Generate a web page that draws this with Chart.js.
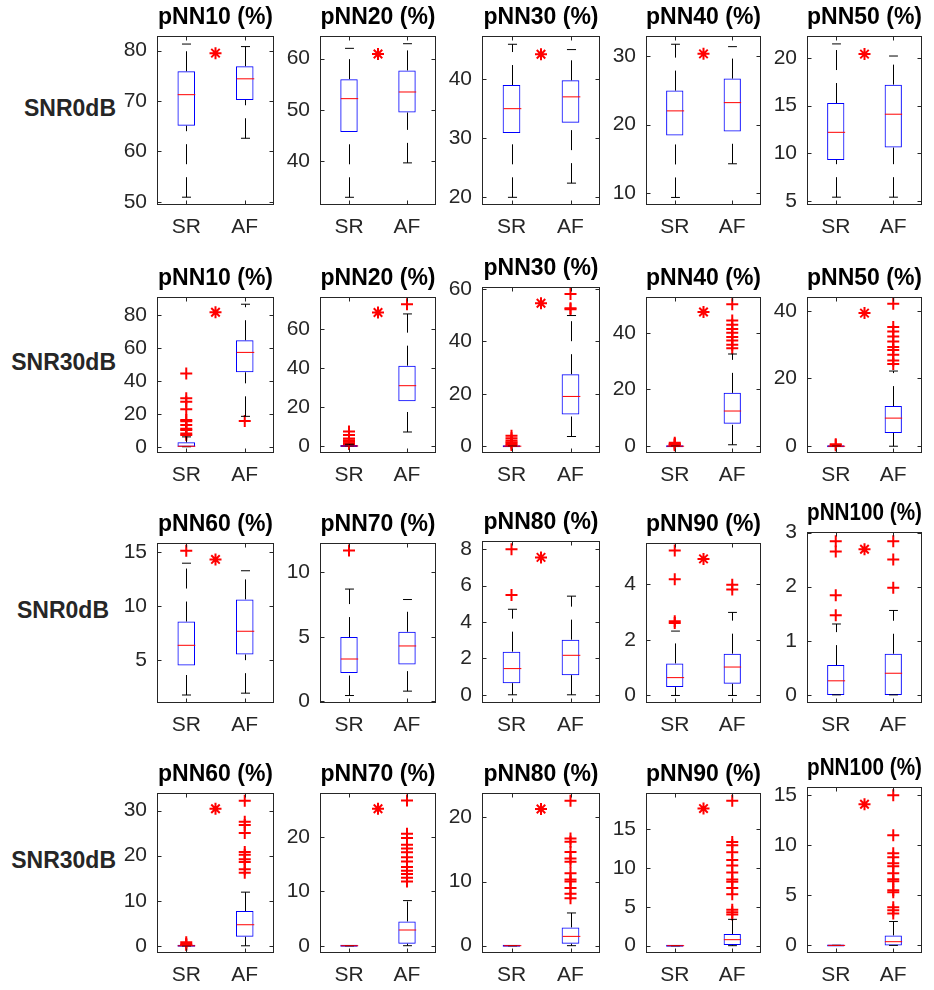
<!DOCTYPE html>
<html>
<head>
<meta charset="utf-8">
<script src="https://cdn.jsdelivr.net/npm/chart.js@4.4.1/dist/chart.umd.min.js"></script>
<style>
  html, body { margin: 0; padding: 0; background: #fff; }
  #fig { position: relative; width: 934px; height: 990px; overflow: hidden; }
  #fig canvas { position: absolute; }
  .rowlab {
    position: absolute; width: 200px; text-align: right;
    font: bold 23px 'Liberation Sans', Arial, sans-serif;
    line-height: 26px; color: #262626; white-space: nowrap;
  }
</style>
</head>
<body>
<div id="fig"></div>
<script>
/* ─── Datos: 20 paneles (4 filas x 5 columnas) ───────── */
const titles = [
  'pNN10 (%)', 'pNN20 (%)', 'pNN30 (%)', 'pNN40 (%)', 'pNN50 (%)',
  'pNN10 (%)', 'pNN20 (%)', 'pNN30 (%)', 'pNN40 (%)', 'pNN50 (%)',
  'pNN60 (%)', 'pNN70 (%)', 'pNN80 (%)', 'pNN90 (%)', 'pNN100 (%)',
  'pNN60 (%)', 'pNN70 (%)', 'pNN80 (%)', 'pNN90 (%)', 'pNN100 (%)',
];
const rowLabels = ['SNR0dB', 'SNR30dB', 'SNR0dB', 'SNR30dB'];
const groups = ['SR', 'AF'];

// límites del eje y y marcas
const yMin = [49.35, 31.5, 18.7, 8.3, 4.58, -3.8, -3.6, -2.6, -2.4, -2.0,
              1.06, -0.12, -0.45, -0.27, -0.15, -1.6, -1.34, -1.14, -0.94, -0.76];
const yMax = [82.9, 64.4, 47.3, 32.9, 22.3, 91.1, 76.6, 60.8, 52.6, 44.06,
              15.87, 12.28, 8.45, 5.47, 3.01, 33.9, 28.1, 23.8, 19.6, 15.83];
const yTicks = [
  [50, 60, 70, 80], [40, 50, 60], [20, 30, 40], [10, 20, 30], [5, 10, 15, 20],
  [0, 20, 40, 60, 80], [0, 20, 40, 60], [0, 20, 40, 60], [0, 20, 40], [0, 20, 40],
  [5, 10, 15], [0, 5, 10], [0, 2, 4, 6, 8], [0, 2, 4], [0, 1, 2, 3],
  [0, 10, 20, 30], [0, 10, 20], [0, 10, 20], [0, 5, 10, 15], [0, 5, 10, 15],
];

// SR: bigote inferior, Q1, mediana, Q3, bigote superior
const srLo  = [50.9, 33.0, 20.0, 9.4, 5.4,   0, 0, 0, 0, 0,   1.8, 0.46, 0, 0, 0,      0, 0, 0, 0, 0];
const srQ1  = [65.1, 45.7, 30.9, 18.4, 9.3,  0, 0, 0, 0, 0,   4.54, 2.2, 0.64, 0.3, 0, 0, 0, 0, 0, 0];
const srMed = [71.25, 52.2, 35.0, 22.0, 12.2, 0.3, 0, 0, 0, 0, 6.4, 3.29, 1.44, 0.64, 0.26, 0, 0, 0, 0, 0];
const srQ3  = [75.9, 56.0, 39.0, 24.95, 15.27, 2.7, 0.4, 0, 0, 0, 8.6, 4.99, 2.37, 1.15, 0.55, 0, 0, 0, 0, 0];
const srHi  = [81.3, 62.0, 45.9, 31.7, 21.47, 6.0, 0.9, 0, 0, 0, 14.0, 8.71, 4.7, 2.31, 1.31, 0, 0, 0, 0, 0];
const srOut = [
  [], [], [], [], [],
  [44.5, 29.5, 27.4, 22.8, 16.2, 15.5, 13.2, 11.0, 10.2, 8.1, 7.2],
  [7.4, 5.7, 3.9, 3.0, 2.2, 1.4, 1.0],
  [4.0, 3.0, 2.2, 1.5, 1.0, 0.5],
  [1.2, 0.8, 0.5, 0.3],
  [0.6, 0.3],
  [15.15], [11.7], [8.0, 5.48], [5.2, 4.17, 2.66, 2.6], [2.84, 2.65, 1.84, 1.47],
  [0.8, 0.4, 0.2], [], [], [], [],
];

// AF: bigote inferior, Q1, mediana, Q3, bigote superior
const afLo  = [62.6, 39.7, 22.4, 14.3, 5.4,  18.5, 7.2, 3.7, 0.5, 0,   1.97, 0.8, 0, 0, 0,  0, 0, 0, 0, 0];
const afQ1  = [70.2, 49.5, 32.6, 19.0, 10.6, 45.3, 23.0, 12.1, 7.9, 3.9, 5.55, 2.87, 1.08, 0.42, 0, 2.0, 0.37, 0.31, 0.1, 0];
const afMed = [74.4, 53.5, 37.0, 23.2, 14.1, 57.4, 31.0, 19.0, 12.4, 8.3, 7.7, 4.3, 2.17, 1.02, 0.4, 4.67, 2.89, 1.45, 0.77, 0.37];
const afQ3  = [76.9, 57.7, 39.8, 26.7, 17.2, 64.8, 41.3, 27.5, 18.8, 11.85, 10.65, 5.4, 3.03, 1.5, 0.76, 7.7, 4.47, 2.85, 1.5, 1.0];
const afHi  = [80.8, 62.9, 45.0, 31.35, 20.2, 86.7, 67.9, 49.9, 32.5, 22.2, 13.3, 7.9, 5.42, 2.98, 1.56, 11.9, 8.3, 5.1, 3.38, 2.39];
const afOut = [
  [], [], [], [], [],
  [15.6],
  [72.9],
  [58.1, 52.7, 52.3],
  [50.0, 44.3, 42.8, 41.3, 40.0, 38.5, 37.3, 35.8, 34.5],
  [42.1, 35.2, 33.9, 32.4, 30.9, 29.3, 28.4, 27.0, 25.3, 24.3],
  [], [], [], [3.97, 3.8], [2.84, 2.5, 1.98],
  [32.2, 27.5, 26.8, 25.0, 20.8, 20.2, 19.2, 18.6, 17.0, 16.2],
  [26.7, 20.6, 19.8, 18.6, 17.9, 17.2, 16.3, 15.5, 14.5, 13.8, 13.2, 12.5, 11.8],
  [22.6, 16.7, 16.2, 14.6, 13.6, 13.1, 11.3, 10.3, 10.0, 9.0, 8.1, 7.4],
  [18.6, 13.3, 12.9, 12.0, 11.0, 10.3, 9.4, 8.5, 8.2, 7.4, 6.6, 4.6, 4.3, 4.0],
  [15.0, 11.0, 9.2, 8.8, 8.2, 7.9, 7.2, 6.6, 6.4, 5.5, 5.3, 3.8, 3.5, 3.2],
];

// marca de significancia (*) entre grupos
const starY = [79.5, 60.9, 44.2, 30.3, 20.4, 81.8, 68.6, 54.6, 47.3, 39.3,
               14.35, null, 7.55, 4.9, 2.69, 30.4, 25.2, 21.3, 17.6, 14.1];

/* ─── Maquetación (px) ────────────────────────────── */
const FONT = "'Liberation Sans', Arial, Helvetica, sans-serif";
const colLeft  = [157, 320, 482, 646, 807];
const colRight = [280, 442, 606, 767, 928];
const rowTop    = [36, 297, 543, 793];
const rowBottom = [205, 453, 703, 953];
const topFix = { 7: 287, 12: 541, 14: 532, 19: 787 };
const rowLabRight = [116, 116, 109, 116];
const rowLabMid   = [108, 362, 610, 860];
const Y_AXIS_W = 60, X_AXIS_H = 40, TITLE_H = 32;
const BOX_HALF = 0.15, CAP_HALF = 0.077, TICK_LEN = 4.5;
const INK = '#262626';

Chart.defaults.font.family = FONT;

/* ─── Bigotes, topes y mediana ────────────────────── */
const boxPlugin = {
  id: 'boxWhiskers',
  afterDatasetsDraw(chart, args, opts) {
    const { ctx, scales: { x, y } } = chart;
    const i = opts.panel;
    const stats = [
      [srLo[i], srQ1[i], srMed[i], srQ3[i], srHi[i]],
      [afLo[i], afQ1[i], afMed[i], afQ3[i], afHi[i]],
    ];
    const seg = (x1, y1, x2, y2) => { ctx.beginPath(); ctx.moveTo(x1, y1); ctx.lineTo(x2, y2); ctx.stroke(); };
    ctx.save();
    ctx.lineWidth = 1;
    stats.forEach((s, g) => {
      const cx = Math.round(x.getPixelForValue(g + 1)) + 0.5;
      const [lo, q1, med, q3, hi] = s.map(v => y.getPixelForValue(v));
      const cw = x.getPixelForValue(g + 1 + CAP_HALF) - x.getPixelForValue(g + 1);
      const bw = x.getPixelForValue(g + 1 + BOX_HALF) - x.getPixelForValue(g + 1);
      ctx.strokeStyle = '#000';
      ctx.setLineDash([20, 13]);
      if (q3 - hi > 0.5) seg(cx, q3, cx, hi);
      if (lo - q1 > 0.5) seg(cx, lo, cx, q1);
      ctx.setLineDash([]);
      seg(cx - cw, hi, cx + cw, hi);
      seg(cx - cw, lo, cx + cw, lo);
      ctx.strokeStyle = '#ff0000';
      seg(cx - bw, med, cx + bw, med);
    });
    ctx.restore();
  },
};

/* ─── Marco con marcas hacia dentro (estilo MATLAB) ── */
const framePlugin = {
  id: 'frame',
  afterDraw(chart) {
    const { ctx, chartArea: a, scales: { x, y } } = chart;
    ctx.save();
    ctx.strokeStyle = INK;
    ctx.lineWidth = 1;
    ctx.strokeRect(a.left + 0.5, a.top + 0.5, a.width - 1, a.height - 1);
    ctx.beginPath();
    y.ticks.forEach(t => {
      const py = Math.round(y.getPixelForValue(t.value)) + 0.5;
      ctx.moveTo(a.left, py); ctx.lineTo(a.left + TICK_LEN, py);
      ctx.moveTo(a.right, py); ctx.lineTo(a.right - TICK_LEN, py);
    });
    x.ticks.forEach(t => {
      const px = Math.round(x.getPixelForValue(t.value)) + 0.5;
      ctx.moveTo(px, a.top); ctx.lineTo(px, a.top + TICK_LEN);
      ctx.moveTo(px, a.bottom); ctx.lineTo(px, a.bottom - TICK_LEN);
    });
    ctx.stroke();
    ctx.restore();
  },
};

const fig = document.getElementById('fig');

/* ─── Etiquetas de fila ───────────────────────────── */
rowLabels.forEach((txt, r) => {
  const d = document.createElement('div');
  d.className = 'rowlab';
  d.textContent = txt;
  d.style.left = (rowLabRight[r] - 200) + 'px';
  d.style.top = (rowLabMid[r] - 13) + 'px';
  fig.appendChild(d);
});

/* ─── Un gráfico por panel ────────────────────────── */
titles.forEach((title, i) => {
  const r = Math.floor(i / 5), c = i % 5;
  const axTop = topFix[i] !== undefined ? topFix[i] : rowTop[r];
  const axW = colRight[c] - colLeft[c];
  const axH = rowBottom[r] - axTop;

  const cv = document.createElement('canvas');
  cv.width = Y_AXIS_W + axW + 2;
  cv.height = TITLE_H + axH + X_AXIS_H;
  cv.style.left = (colLeft[c] - Y_AXIS_W) + 'px';
  cv.style.top = (axTop - TITLE_H) + 'px';
  cv.style.width = cv.width + 'px';
  cv.style.height = cv.height + 'px';
  fig.appendChild(cv);

  const outliers = [
    ...srOut[i].map(v => ({ x: 1, y: v })),
    ...afOut[i].map(v => ({ x: 2, y: v })),
  ];

  new Chart(cv, {
    type: 'bar',
    data: {
      datasets: [
        {
          type: 'bar',
          data: [
            { x: 1, y: [srQ1[i], srQ3[i]] },
            { x: 2, y: [afQ1[i], afQ3[i]] },
          ],
          backgroundColor: 'rgba(0,0,0,0)',
          borderColor: '#0000ff',
          borderWidth: 1,
          borderSkipped: false,
          barPercentage: BOX_HALF * 2,
          categoryPercentage: 1,
          minBarLength: 2,
          order: 3,
        },
        {
          type: 'scatter',
          data: outliers,
          pointStyle: 'cross',
          pointRadius: 6,
          borderColor: '#ff0000',
          borderWidth: 2,
          order: 2,
        },
        {
          type: 'scatter',
          data: starY[i] == null ? [] : [{ x: 1.5, y: starY[i] }],
          pointStyle: 'star',
          pointRadius: 6,
          borderColor: '#ff0000',
          borderWidth: 2,
          order: 1,
        },
      ],
    },
    options: {
      responsive: false,
      animation: false,
      devicePixelRatio: 1,
      layout: { padding: { right: 2 } },
      plugins: {
        legend: { display: false },
        tooltip: { enabled: false },
        title: {
          display: true,
          text: title,
          fullSize: false,
          color: '#000',
          font: { size: 23, weight: 'bold', lineHeight: 1.15 },
          padding: { top: 0, bottom: 5.55 },
        },
        boxWhiskers: { panel: i },
      },
      scales: {
        x: {
          type: 'linear',
          min: 0.5,
          max: 2.5,
          offset: false,
          grid: { display: false, drawTicks: false },
          border: { display: false },
          afterBuildTicks: s => { s.ticks = groups.map((g, k) => ({ value: k + 1 })); },
          afterFit: s => { s.height = X_AXIS_H; },
          ticks: {
            autoSkip: false, maxRotation: 0, padding: 10,
            color: INK, font: { size: 21 },
            callback: v => groups[v - 1],
          },
        },
        y: {
          type: 'linear',
          min: yMin[i],
          max: yMax[i],
          beginAtZero: false,
          grid: { display: false, drawTicks: false },
          border: { display: false },
          afterBuildTicks: s => { s.ticks = yTicks[i].map(v => ({ value: v })); },
          afterFit: s => { s.width = Y_AXIS_W; },
          ticks: {
            autoSkip: false, padding: 10,
            color: INK, font: { size: 21 },
            callback: v => String(v),
          },
        },
      },
    },
    plugins: [boxPlugin, framePlugin],
  });
});
</script>
</body>
</html>
